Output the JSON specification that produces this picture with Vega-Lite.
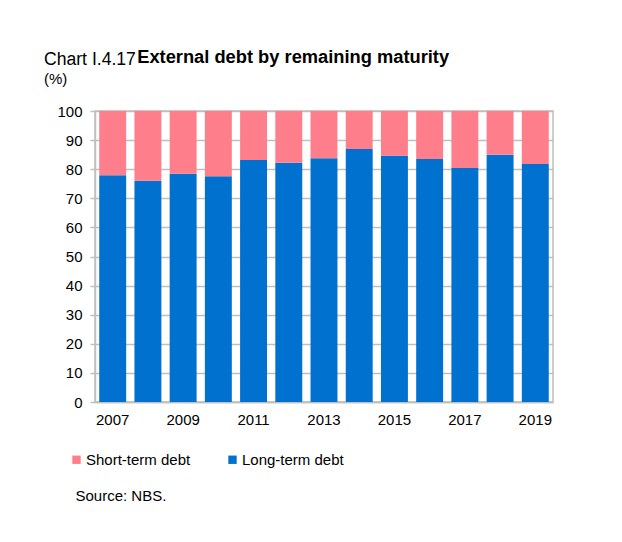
{
  "$schema": "https://vega.github.io/schema/vega-lite/v6.json",
  "background": "white",
  "padding": {"left": 43, "top": 48, "right": 10, "bottom": 10},
  "title": {
    "text": "External debt by remaining maturity",
    "anchor": "start",
    "font": "Liberation Sans",
    "fontSize": 18.3,
    "fontWeight": "bold",
    "color": "#000000",
    "dx": 94,
    "dy": 21
  },
  "config": {
    "font": "Liberation Sans",
    "view": {"stroke": "#bfbfbf", "strokeWidth": 1.5},
    "axis": {
      "labelFont": "Liberation Sans",
      "labelFontSize": 15,
      "labelColor": "#000000",
      "domainColor": "#bfbfbf",
      "domainWidth": 1.5,
      "tickColor": "#bfbfbf",
      "tickWidth": 1.5,
      "gridColor": "#bfbfbf",
      "gridWidth": 1.5
    }
  },
  "vconcat": [
    {
      "width": 458,
      "height": 291,
      "title": {
        "text": "Chart I.4.17",
        "subtitle": "(%)",
        "anchor": "start",
        "dx": -13,
        "font": "Liberation Sans",
        "fontSize": 17.6,
        "fontWeight": "normal",
        "color": "#000000",
        "subtitleFont": "Liberation Sans",
        "subtitleFontSize": 15,
        "subtitleColor": "#000000",
        "subtitlePadding": 3,
        "offset": 17
      },
      "data": {
        "values": [
          {"year": 2007, "series": "Long-term debt", "share": 77.9},
          {"year": 2007, "series": "Short-term debt", "share": 22.1},
          {"year": 2008, "series": "Long-term debt", "share": 76.0},
          {"year": 2008, "series": "Short-term debt", "share": 24.0},
          {"year": 2009, "series": "Long-term debt", "share": 78.4},
          {"year": 2009, "series": "Short-term debt", "share": 21.6},
          {"year": 2010, "series": "Long-term debt", "share": 77.6},
          {"year": 2010, "series": "Short-term debt", "share": 22.4},
          {"year": 2011, "series": "Long-term debt", "share": 83.2},
          {"year": 2011, "series": "Short-term debt", "share": 16.8},
          {"year": 2012, "series": "Long-term debt", "share": 82.2},
          {"year": 2012, "series": "Short-term debt", "share": 17.8},
          {"year": 2013, "series": "Long-term debt", "share": 83.8},
          {"year": 2013, "series": "Short-term debt", "share": 16.2},
          {"year": 2014, "series": "Long-term debt", "share": 86.9},
          {"year": 2014, "series": "Short-term debt", "share": 13.1},
          {"year": 2015, "series": "Long-term debt", "share": 84.6},
          {"year": 2015, "series": "Short-term debt", "share": 15.4},
          {"year": 2016, "series": "Long-term debt", "share": 83.5},
          {"year": 2016, "series": "Short-term debt", "share": 16.5},
          {"year": 2017, "series": "Long-term debt", "share": 80.4},
          {"year": 2017, "series": "Short-term debt", "share": 19.6},
          {"year": 2018, "series": "Long-term debt", "share": 85.0},
          {"year": 2018, "series": "Short-term debt", "share": 15.0},
          {"year": 2019, "series": "Long-term debt", "share": 81.8},
          {"year": 2019, "series": "Short-term debt", "share": 18.2}
        ]
      },
      "mark": {"type": "bar"},
      "encoding": {
        "x": {
          "field": "year",
          "type": "ordinal",
          "scale": {"paddingInner": 0.235, "paddingOuter": 0.12},
          "axis": {
            "values": [2007, 2009, 2011, 2013, 2015, 2017, 2019],
            "labelAngle": 0,
            "ticks": false,
            "labelPadding": 10,
            "title": "Source: NBS.",
            "titleFont": "Liberation Sans",
            "titleFontSize": 15,
            "titleFontWeight": "normal",
            "titleColor": "#000000",
            "titleAnchor": "start",
            "titleAlign": "left",
            "titleBaseline": "middle",
            "titleX": -20,
            "titleY": 93
          }
        },
        "y": {
          "field": "share",
          "type": "quantitative",
          "stack": "zero",
          "scale": {"domain": [0, 100], "nice": false},
          "axis": {
            "values": [0, 10, 20, 30, 40, 50, 60, 70, 80, 90, 100],
            "tickSize": 5,
            "labelPadding": 8,
            "title": null
          }
        },
        "order": {"field": "series", "sort": "ascending"},
        "color": {
          "field": "series",
          "type": "nominal",
          "scale": {
            "domain": ["Short-term debt", "Long-term debt"],
            "range": ["#fe7f8b", "#0071ce"]
          },
          "legend": {
            "title": null,
            "orient": "none",
            "direction": "horizontal",
            "legendX": -26,
            "legendY": 341,
            "symbolType": "square",
            "symbolSize": 70,
            "symbolStrokeWidth": 0,
            "labelFont": "Liberation Sans",
            "labelFontSize": 15,
            "labelColor": "#000000",
            "labelOffset": 2,
            "columnPadding": 34
          }
        }
      }
    }
  ]
}
